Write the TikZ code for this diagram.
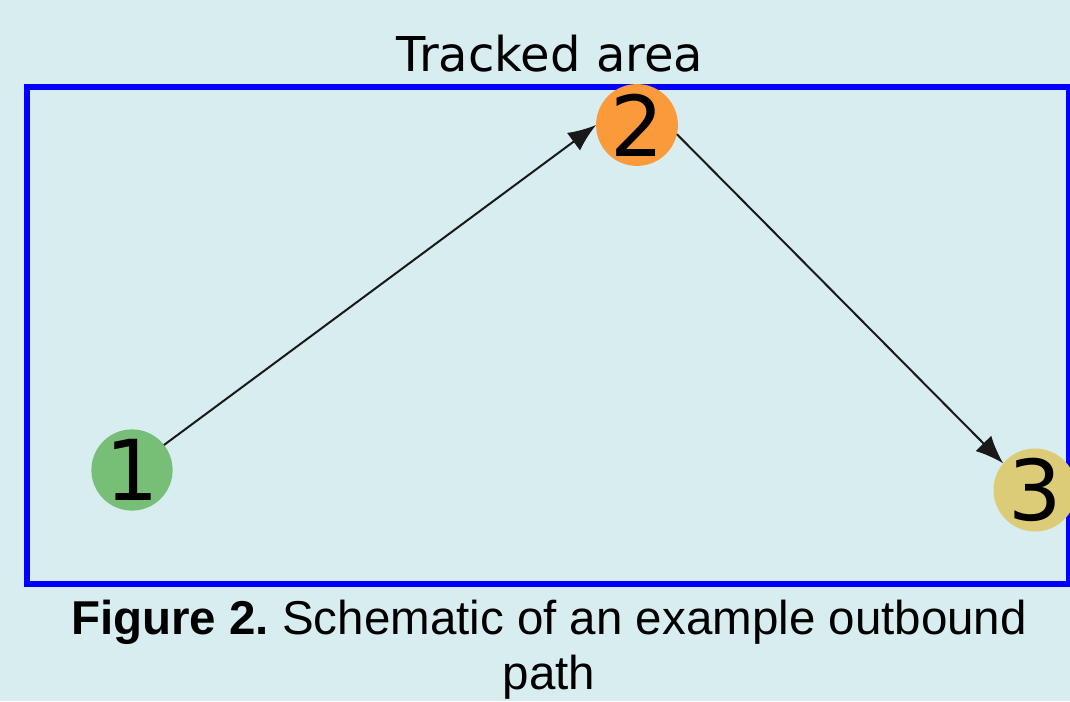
\documentclass[tikz,border=0pt]{standalone}
\usepackage{fontspec}
\usepackage{tikz}
\usetikzlibrary{arrows.meta}
\newfontfamily\labelfont{DejaVu Sans}
\newfontfamily\captionfont{Liberation Sans}

\definecolor{bgblue}{HTML}{D8EDF0}
\definecolor{stopgreen}{HTML}{77BF77}
\definecolor{stoporange}{HTML}{FB9A3B}
\definecolor{stopyellow}{HTML}{DCCC78}

\tikzset{
  stop/.style={circle, minimum size=37pt, inner sep=0pt, outer sep=0pt,
    font=\labelfont\fontsize{42}{42}\selectfont},
  move/.style={-{Latex[length=14pt,width=11pt]}, line width=1pt, black!90}
}

\begin{document}
\begin{tikzpicture}[x=0.5pt, y=-0.5pt]
  % Page and background
  \fill[bgblue] (0,0) rectangle (1070,701);
  \useasboundingbox (0,0) rectangle (1070,701);

  % Tracked area
  \draw[blue, line width=3pt] (27,87) rectangle (1069,584);
  \node[anchor=base, font=\labelfont\fontsize{24}{24}\selectfont] (title) at (550,72) {Tracked area};

  % Stops of the path
  \node[stop, fill=stopgreen] (one) at (132,470) {1};
  \node[stop, fill=stoporange] (two) at (637,125) {2};
  \node[stop, fill=stopyellow] (three) at (1035,490) {3};

  % Moves between stops
  \draw[move] (one.38) -- (two.west);
  \draw[move] (two.-13) -- (three.140);

  % Caption
  \node[anchor=base, align=center, font=\captionfont\fontsize{23.75}{27.5}\selectfont] (caption) at (549,689)
    {\frenchspacing\textbf{Figure 2.} Schematic of an example outbound\\path};
\end{tikzpicture}
\end{document}
